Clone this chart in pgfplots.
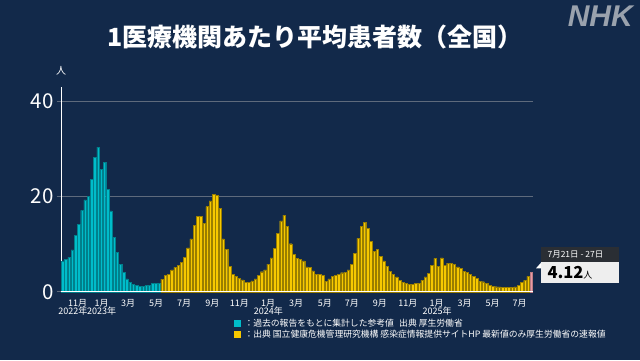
\documentclass[border=0pt]{standalone}
\usepackage{pgfplots}
\pgfplotsset{compat=1.18}
\usepackage{fontspec}
\setmainfont{Noto Sans CJK JP}
\newfontfamily\nhkfont{Liberation Sans}
\definecolor{bg}{HTML}{12294A}
\definecolor{cyanfill}{HTML}{00BCCA}
\definecolor{cyanline}{HTML}{00808C}
\definecolor{yelfill}{HTML}{F6C800}
\definecolor{yelline}{HTML}{9A7E00}
\definecolor{pinkfill}{HTML}{EA9AA4}
\definecolor{gridc}{HTML}{5E6A7C}
\definecolor{nhkgray}{HTML}{9AA2AD}
\definecolor{hdrbg}{HTML}{2A2E34}
\definecolor{boxbg}{HTML}{EEEEEE}

\pgfplotstableread{
x y
0 6.5
1 6.8
2 7.2
3 8.8
4 11.8
5 14.2
6 17.1
7 19.3
8 20.1
9 23.7
10 28.3
11 30.4
12 25.7
13 27.2
14 21.5
15 17.0
16 11.5
17 8.3
18 5.8
19 4.1
20 2.7
21 2.0
22 1.6
23 1.3
24 1.2
25 1.2
26 1.3
27 1.4
28 1.75
29 1.75
30 1.75
}\pasttable

\pgfplotstableread{
x y
31 2.63
32 3.5
33 3.6
34 4.6
35 5.1
36 5.6
37 6.2
38 7.3
39 9.2
40 11.1
41 14.0
42 15.9
43 15.9
44 14.4
45 17.9
46 19.1
47 20.5
48 20.3
49 17.5
50 11.1
51 8.9
52 5.3
53 3.7
54 3.3
55 2.8
56 2.5
57 2.0
58 2.0
59 2.3
60 2.7
61 3.5
62 4.2
63 4.6
64 5.8
65 7.1
66 9.1
67 12.3
68 14.9
69 16.1
70 13.8
71 10.1
72 7.9
73 7.0
74 6.8
75 6.5
76 5.2
77 5.1
78 4.4
79 3.7
80 3.6
81 3.4
82 2.2
83 2.7
84 3.3
85 3.4
86 3.6
87 4.0
88 4.1
89 4.6
90 5.8
91 8.1
92 11.2
93 13.7
94 14.6
95 13.3
96 10.6
97 8.5
98 8.9
99 7.4
100 6.5
101 5.3
102 4.3
103 3.6
104 3.1
105 2.4
106 1.9
107 1.7
108 1.6
109 1.5
110 1.7
111 1.75
112 2.4
113 3.1
114 3.9
115 5.5
116 7.0
117 5.3
118 7.1
119 5.5
120 6.0
121 6.0
122 5.75
123 5.2
124 4.9
125 4.35
126 4.1
127 3.7
128 3.2
129 2.8
130 2.2
131 2.1
132 1.7
133 1.4
134 1.2
135 1.05
136 1.0
137 0.85
138 0.85
139 0.85
140 0.9
141 1.0
142 1.4
143 2.0
144 2.4
145 3.2
}\newtable

\begin{document}
\begin{tikzpicture}
\fill[bg] (0pt,0pt) rectangle (640pt,360pt);
% title
\node[text=white, font=\fontsize{25}{25}\selectfont\bfseries] at (315pt,323pt) {1医療機関あたり平均患者数（全国）};
% NHK logo
\node[text=nhkgray, font=\nhkfont\fontsize{30}{30}\selectfont\bfseries\itshape, anchor=east, inner sep=0pt] at (633pt,344pt) {NHK};
% unit
\node[text=white, font=\fontsize{10}{10}\selectfont] at (61pt,289pt) {人};

\begin{axis}[
  at={(61pt,68.3pt)}, anchor=south west,
  scale only axis, width=472pt, height=204.4pt,
  xmin=-0.53, xmax=146.5, ymin=0, ymax=43,
  axis x line*=bottom, axis y line*=left,
  axis line style={-, white, line width=0.8pt},
  clip=false,
  ytick={0,20,40},
  ymajorgrids, grid style={gridc, line width=1.1pt},
  tick align=outside,
  major tick length=4pt,
  ytick style={draw=gridc, line width=1.1pt},
  xtick style={draw=none},
  /pgf/number format/assume math mode=true,
  yticklabel style={text=white, font=\fontsize{20.5}{20.5}\selectfont},
  xtick={4.67,12.15,20.4,29.1,37.8,46.6,55.0,64.0,72.7,81.7,90.1,98.8,107.5,116.5,125.2,133.9,142.3},
  xticklabels={11月,1月,3月,5月,7月,9月,11月,1月,3月,5月,7月,9月,11月,1月,3月,5月,7月},
  xticklabel style={text=white, font=\fontsize{9}{9}\selectfont},
  ybar, bar width=0.78, bar shift=0pt,
]
\addplot[fill=cyanfill, draw=cyanline, line width=0.35pt] table[x=x,y=y] {\pasttable};
\addplot[fill=yelfill, draw=yelline, line width=0.35pt] table[x=x,y=y] {\newtable};
\addplot[fill=pinkfill, draw=pinkfill!80!black, line width=0.35pt] coordinates {(146,4.12)};
\draw[white, line width=1.3pt] (axis cs:-0.53,0) -- (axis cs:146.5,0);
\node[text=white, font=\fontsize{9}{9}\selectfont] at ([yshift=-19.8pt]axis cs:3.2,0) {2022年};
\node[text=white, font=\fontsize{9}{9}\selectfont] at ([yshift=-19.8pt]axis cs:12.15,0) {2023年};
\node[text=white, font=\fontsize{9}{9}\selectfont] at ([yshift=-19.8pt]axis cs:64.1,0) {2024年};
\node[text=white, font=\fontsize{9}{9}\selectfont] at ([yshift=-19.8pt]axis cs:116.6,0) {2025年};
\end{axis}

% legend
\fill[cyanfill] (234pt,33pt) rectangle (241pt,40pt);
\fill[yelfill] (234pt,22pt) rectangle (241pt,29pt);
\node[text=white, font=\fontsize{8.8}{8.8}\selectfont, anchor=west] at (241pt,36.5pt) {：過去の報告をもとに集計した参考値\hspace{0.6em}出典 厚生労働省};
\node[text=white, font=\fontsize{8.8}{8.8}\selectfont, anchor=west] at (241pt,25.5pt) {：出典 国立健康危機管理研究機構 感染症情報提供サイトHP 最新値のみ厚生労働省の速報値};

% annotation
\fill[hdrbg] (541pt,113pt) rectangle (619pt,98pt);
\fill[boxbg] (541pt,98pt) rectangle (619pt,77pt);
\fill[white] (536pt,91.7pt) -- (541pt,97.3pt) -- (541pt,91.7pt) -- cycle;
\node[text=white, font=\fontsize{8.5}{8.5}\selectfont, anchor=west] at (544pt,105.5pt) {7月21日 - 27日};
\node[text=black, font=\fontsize{16.5}{16.5}\selectfont\bfseries, anchor=base west] at (544pt,81.5pt) {4.12\fontsize{9}{9}\selectfont\mdseries 人};
\end{tikzpicture}
\end{document}
